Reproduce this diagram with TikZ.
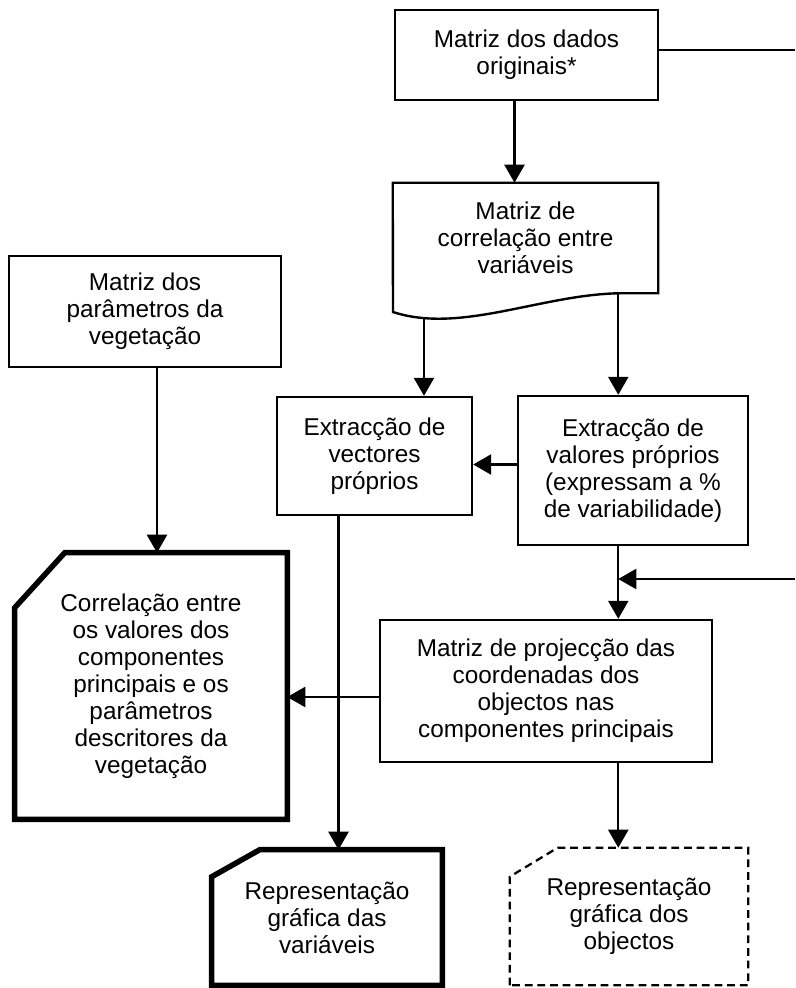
\documentclass[tikz,border=0pt]{standalone}
\usepackage{fontspec}
\setmainfont{Liberation Sans}
\usetikzlibrary{arrows.meta, calc}

\begin{document}
\begin{tikzpicture}[
  font=\fontsize{17.3}{19.2}\selectfont,
  box/.style={draw, line width=1.7pt, align=center, inner sep=0pt},
  plain/.style={align=center, inner sep=0pt},
  cardline/.style={line width=3.9pt, line join=miter},
  dashline/.style={line width=1.6pt, dash pattern=on 5.5pt off 3.5pt},
  link/.style={line width=1.7pt},
  arr/.style={line width=1.7pt, -{Triangle[length=0.45cm, width=0.5cm]}}
]
  \useasboundingbox (0,0) rectangle (19.875,-24.7);

  % Data matrices
  \node[box, minimum width=6.575cm, minimum height=2.25cm] (orig) at (13.1625,-1.375) {Matriz dos dados\\originais*};
  \node[plain, minimum width=6.625cm, minimum height=2.75cm] (corr) at (13.1375,-5.95) {Matriz de\\correlação entre\\variáveis};
  \draw[link] (corr.north west) -- (corr.north east) -- (corr.south east) -- ++(-1,0) coordinate (wr)
    .. controls (13.5,-7.375) and (11.5,-8.35) .. (9.825,-7.8) coordinate[pos=0.85] (wl) -- cycle;
  \node[box, minimum width=6.8cm, minimum height=2.775cm] (par) at (3.625,-7.7875) {Matriz dos\\parâmetros da\\vegetação};

  % Extraction
  \node[box, minimum width=4.875cm, minimum height=2.95cm] (vec) at (9.3625,-11.4) {Extracção de\\vectores\\próprios};
  \node[box, minimum width=5.75cm, minimum height=3.725cm] (val) at (15.825,-11.7625) {Extracção de\\valores próprios\\(expressam a \%\\de variabilidade)};

  % Projection and correlation
  \node[box, minimum width=8.3cm, minimum height=3.55cm] (proj) at (13.65,-17.275) {Matriz de projecção das\\coordenadas dos\\objectos nas\\componentes principais};
  \node[plain, minimum width=6.8cm, minimum height=6.65cm] (cor) at (3.775,-17.15) {Correlação entre\\os valores dos\\componentes\\principais e os\\parâmetros\\descritores da\\vegetação};
  \draw[cardline] (cor.south west) -- ($(cor.north west)+(0,-1.375)$) -- ($(cor.north west)+(1.25,0)$)
    -- (cor.north east) -- (cor.south east) -- cycle;

  % Graphs
  \node[plain, minimum width=5.75cm, minimum height=3.375cm] (var) at (8.175,-22.9375) {Representação\\gráfica das\\variáveis};
  \draw[cardline] (var.south west) -- ($(var.north west)+(0,-0.675)$) -- ($(var.north west)+(1.2,0)$)
    -- (var.north east) -- (var.south east) -- cycle;
  \node[plain, minimum width=5.95cm, minimum height=3.425cm] (obj) at (15.725,-22.9125) {Representação\\gráfica dos\\objectos};
  \draw[dashline] (obj.south west) -- ($(obj.north west)+(0,-0.725)$) -- ($(obj.north west)+(1.2,0)$)
    -- (obj.north east) -- (obj.south east) -- cycle;

  % Loose ends at the right margin
  \coordinate (rim1) at (19.875,-1.25);
  \coordinate (rim2) at (19.875,-14.475);

  % Connectors
  \draw[link] (orig.east |- rim1) -- (rim1);
  \draw[arr] ([xshift=-0.3cm]orig.south) -- ([xshift=-0.3cm]orig.south |- corr.north);
  \draw[arr] (wl) -- (wl |- vec.north);
  \draw[arr] (wr) -- (wr |- val.north);
  \draw[arr] ([yshift=0.15cm]val.west) -- ([yshift=0.15cm]val.west -| vec.east);
  \draw[arr] (val.south -| wr) -- (proj.north -| wr);
  \draw[arr] (rim2) -- (rim2 -| wr);
  \draw[arr] ([xshift=0.3cm]par.south) -- ([xshift=0.3cm]par.south |- cor.north);
  \draw[arr] ([yshift=-0.15cm]proj.west) -- ([yshift=-0.15cm]proj.west -| cor.east);
  \draw[arr] ([xshift=-0.9cm]vec.south) -- ([xshift=-0.9cm]vec.south |- var.north);
  \draw[arr] (proj.south -| wr) -- (obj.north -| wr);
\end{tikzpicture}
\end{document}
